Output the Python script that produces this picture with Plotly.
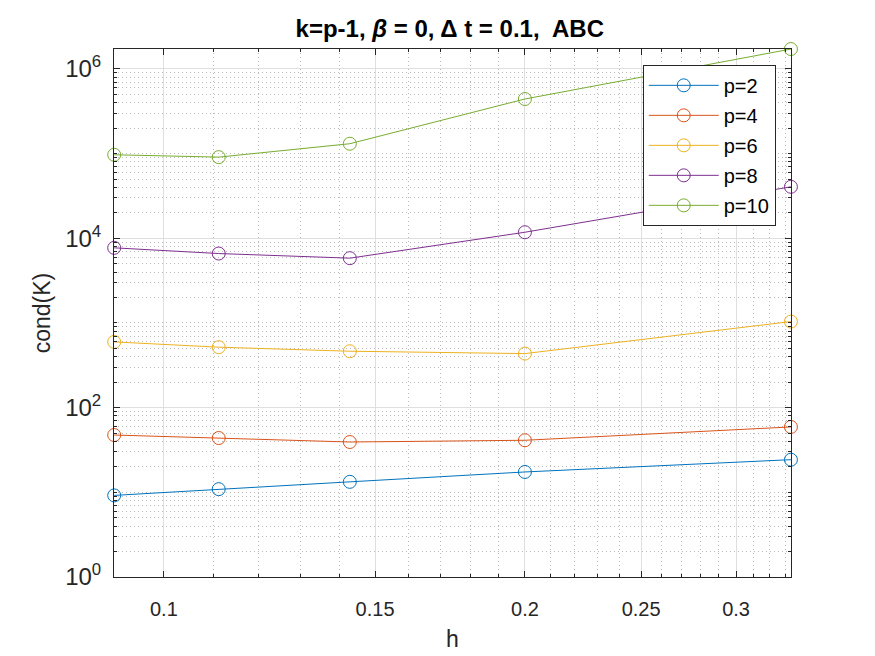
#!/usr/bin/env python3
"""Condition number of K vs mesh size h, log-log, one line per p."""

import plotly.graph_objects as go

# --- data ---
h = [0.0909, 0.1111, 0.1429, 0.2, 0.3333]

cond_p2 = [9.2, 10.9, 13.3, 17.4, 24.3]
cond_p4 = [47.5, 43.8, 39.3, 41.2, 59.2]
cond_p6 = [598, 518, 464, 435, 1040]
cond_p8 = [7720, 6610, 5830, 11800, 40600]
cond_p10 = [97000, 91000, 131000, 442000, 1720000]

series_names = ["p=2", "p=4", "p=6", "p=8", "p=10"]
series_values = [cond_p2, cond_p4, cond_p6, cond_p8, cond_p10]
colors = ["#0072BD", "#D95319", "#EDB120", "#7E2F8E", "#77AC30"]  # matlab default order

x_tickvals = [0.1, 0.15, 0.2, 0.25, 0.3]
x_ticktext = ["0.1", "0.15", "0.2", "0.25", "0.3"]
y_tickvals = [1, 1e2, 1e4, 1e6]
y_ticktext = ["10<sup>0</sup>", "10<sup>2</sup>", "10<sup>4</sup>", "10<sup>6</sup>"]

FONT = "Liberation Sans, Arial, sans-serif"

fig = go.Figure()
for name, vals, col in zip(series_names, series_values, colors):
    fig.add_trace(go.Scatter(
        x=h, y=vals, name=name, legendgroup=name,
        mode="lines+markers",
        line=dict(color=col, width=1),
        marker=dict(symbol="circle-open", size=13, color=col, line=dict(width=1, color=col)),
        cliponaxis=False,
    ))

# minor grid (matlab style dotted)
x_minor = [round(0.01 * i, 2) for i in range(10, 34) if round(0.01 * i, 2) not in x_tickvals]
y_minor = [m * 10 ** k for k in range(0, 7) for m in range(1, 10) if m * 10 ** k not in y_tickvals]

minor_style = dict(tickmode="array", ticks="inside", ticklen=3, tickcolor="#262626",
                   showgrid=True, gridcolor="#bcbcbc", griddash="1px,3px", gridwidth=1)

axis_common = dict(
    type="log", automargin=False,
    showline=True, linecolor="#262626", linewidth=1, mirror="allticks",
    ticks="inside", ticklen=6, tickcolor="#262626",
    showgrid=True, gridcolor="#dfdfdf", gridwidth=1,
    zeroline=False,
)

fig.update_xaxes(
    **axis_common,
    range=[-1.0416, -0.4771],
    tickmode="array", tickvals=x_tickvals, ticktext=x_ticktext,
    tickfont=dict(family=FONT, size=20, color="#262626"),
    ticklabelstandoff=14,
    minor=dict(tickvals=x_minor, **minor_style),
    title=dict(text="h", font=dict(family=FONT, size=23, color="#262626"), standoff=11),
)
fig.update_yaxes(
    **axis_common,
    range=[0, 6.236],
    tickmode="array", tickvals=y_tickvals, ticktext=y_ticktext,
    tickfont=dict(family=FONT, size=24, color="#262626"),
    ticklabelstandoff=7,
    minor=dict(tickvals=y_minor, **minor_style),
    title=dict(text="cond(K)", font=dict(family=FONT, size=23, color="#262626"), standoff=8),
)

# page body has an 8px margin, so margins are shifted by that amount
fig.update_layout(
    width=875, height=656,
    margin=dict(l=106, r=92, t=41, b=87),
    paper_bgcolor="white", plot_bgcolor="white",
    title=dict(text="<b>k=p-1, <i>β</i> = 0, Δ t = 0.1,  ABC</b>",
               font=dict(family=FONT, size=24, color="black"),
               xref="paper", x=0.496, xanchor="center",
               y=1 - 21 / 656, yanchor="middle"),
    legend=dict(x=0.781, y=0.970, xanchor="left", yanchor="top",
                bgcolor="white", bordercolor="#262626", borderwidth=1,
                font=dict(family=FONT, size=20, color="black"),
                itemwidth=70, tracegroupgap=1),
    showlegend=True,
)

fig.write_html("out.html")
